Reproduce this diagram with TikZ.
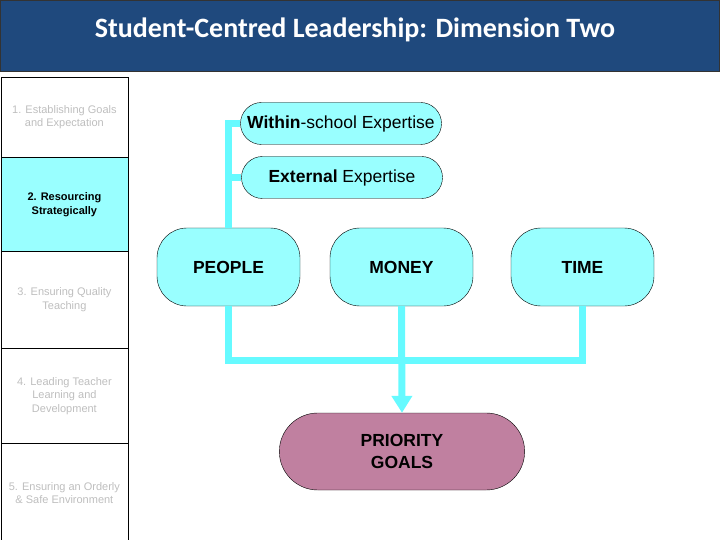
\documentclass[tikz,border=0pt]{standalone}
\usepackage{fontspec}
\setmainfont{Liberation Sans}
\newfontfamily\titlefont{Carlito}
\usetikzlibrary{shapes.misc,arrows.meta}
\definecolor{barblue}{RGB}{31,73,125}
\definecolor{paleaqua}{RGB}{153,255,255}
\definecolor{linkaqua}{RGB}{102,250,255}
\definecolor{mauve}{RGB}{192,128,160}
\definecolor{dimgrey}{RGB}{190,190,190}
\begin{document}
\begin{tikzpicture}[x=1pt,y=-1pt,
    dimbox/.style={draw=black, line width=0.8pt, minimum width=127pt, anchor=north west,
        align=center, inner sep=0pt, text=dimgrey, font=\fontsize{11}{13.5}\selectfont},
    pill/.style={rounded rectangle, draw=black, fill=paleaqua, minimum width=205pt,
        minimum height=42pt, inner xsep=2pt, font=\fontsize{17.5}{20}\selectfont},
    resource/.style={rectangle, rounded corners=30pt, draw=black, fill=paleaqua,
        minimum width=143pt, minimum height=78pt, font=\fontsize{17.5}{20}\selectfont\bfseries},
    link/.style={linkaqua, line width=7pt}]
\useasboundingbox (0,0) rectangle (720,540);
\fill[barblue] (0,0) rectangle (720,72);
\draw[black!80, line width=1pt] (0.5,0.5) rectangle (719.5,72);
\node[text=white, font=\titlefont\fontsize{28}{33}\selectfont\bfseries] (title) at (355,30)
    {Student-Centred Leadership: Dimension Two};
\node[dimbox, minimum height=80pt] (goalsbox) at (0.5,77) {1. Establishing Goals\\and Expectation};
\node[dimbox, minimum height=94pt, fill=paleaqua, text=black, font=\fontsize{11}{14}\selectfont\bfseries]
    (resourcebox) at (0.5,157) {2. Resourcing\\Strategically};
\node[dimbox, minimum height=97pt] (teachbox) at (0.5,251) {3. Ensuring  Quality\\Teaching};
\node[dimbox, minimum height=95pt] (learnbox) at (0.5,348) {4. Leading Teacher\\Learning and\\Development};
\node[dimbox, minimum height=99pt] (safebox) at (0.5,443) {5. Ensuring an Orderly\\\& Safe Environment};
\node[pill] (within) at (341,123.5) {\textbf{Within}-school Expertise};
\node[pill] (external) at (342,177.5) {\textbf{External} Expertise};
\node[resource] (people) at (228.5,267) {PEOPLE};
\node[resource] (money) at (401.5,267) {MONEY};
\node[resource] (time) at (582.5,267) {TIME};
\node[rounded rectangle, draw=black, fill=mauve, minimum width=252pt, minimum height=77pt,
    align=center, font=\fontsize{17.5}{22}\selectfont\bfseries] (goals) at (402,451.5) {PRIORITY\\GOALS};
\draw[link] (within.west) -| (people.north);
\draw[link] (external.west) -- (external.west -| people.north);
\coordinate (join) at (people.south |- 0,360);
\draw[link] (people.south) -- (join) -| (time.south);
\draw[link, -{Triangle[width=20pt,length=17pt]}] (money.south) -- (goals.north);
\end{tikzpicture}
\end{document}
